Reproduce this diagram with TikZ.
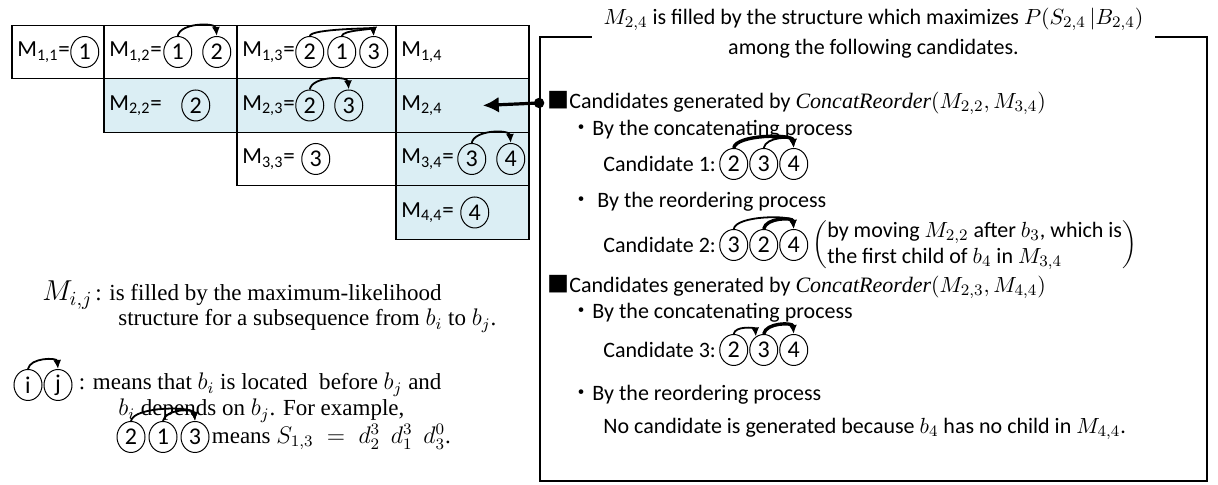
\documentclass[tikz,border=0pt]{standalone}
\usepackage{fontspec}
\setmainfont{Liberation Serif}
\setsansfont{Carlito}
\newfontfamily\cjk{Noto Sans CJK JP}
\usetikzlibrary{positioning, arrows.meta, shapes.geometric}
\definecolor{cellblue}{RGB}{219,238,244}
\tikzset{
    cell/.style={draw, line width=0.7pt, minimum height=26.75pt, inner sep=0pt, outer sep=0pt},
    col1/.style={cell, minimum width=46pt},
    col2/.style={cell, minimum width=66.5pt},
    col3/.style={cell, minimum width=79.5pt},
    col4/.style={cell, minimum width=66.5pt},
    filled/.style={fill=cellblue},
    celltext/.style={font=\sffamily\fontsize{11.5}{13}\selectfont, inner sep=0pt},
    num/.style={draw, ellipse, line width=0.5pt, minimum width=14pt, minimum height=15.5pt, inner sep=0pt, font=\sffamily\fontsize{12}{13}\selectfont},
    dep/.style={-{Latex[length=4.5pt, width=4pt]}, line width=0.9pt, out=80, in=95},
    newdep/.style={dep, line width=1.7pt},
    boxtext/.style={font=\sffamily\fontsize{11}{13}\selectfont, inner sep=0pt, anchor=west},
    legtext/.style={font=\fontsize{11.5}{13.5}\selectfont, inner sep=0pt, anchor=west},
    title/.style={fill=white, align=center, font=\sffamily\fontsize{11}{15}\selectfont, inner xsep=6pt, inner ysep=0pt},
    link/.style={line width=1.6pt, -{Latex[length=8pt, width=8pt]}}
}

\begin{document}
\begin{tikzpicture}[x=0.5pt, y=0.5pt, >=Latex]
  \useasboundingbox (0,0) rectangle (1218,485);
  \node(M11)[col1] at (58,433){};
  \node(M12)[col2, right=0pt of M11]{};
  \node(M13)[col3, right=0pt of M12]{};
  \node(M14)[col4, right=0pt of M13]{};
  \node(M22)[col2, filled, below=0pt of M12]{};
  \node(M23)[col3, filled, below=0pt of M13]{};
  \node(M24)[col4, filled, below=0pt of M14]{};
  \node(M33)[col3, below=0pt of M23]{};
  \node(M34)[col4, filled, below=0pt of M24]{};
  \node(M44)[col4, filled, below=0pt of M34]{};
  \node(T11)[celltext, right=2.5pt of M11.west]{M\textsubscript{1,1}=};
  \node(c11)[num, right=0pt of T11]{1};
  \node(T12)[celltext, right=2.5pt of M12.west]{M\textsubscript{1,2}=};
  \node(c12a)[num, right=0.5pt of T12]{1};
  \node(c12b)[num, right=5pt of c12a]{2};
  \draw[dep, looseness=0.9] (c12a.north) to (c12b.north);
  \node(T13)[celltext, right=2.5pt of M13.west]{M\textsubscript{1,3}=};
  \node(c13a)[num, right=0pt of T13]{2};
  \node(c13b)[num, right=1.5pt of c13a]{1};
  \node(c13c)[num, right=1.5pt of c13b]{3};
  \draw[dep, looseness=0.3] (c13a.north) to (c13c.north);
  \draw[dep, looseness=0.5] (c13b.north) to (c13c.north);
  \node(T14)[celltext, right=2.5pt of M14.west]{M\textsubscript{1,4}};
  \node(T22)[celltext, right=2.5pt of M22.west]{M\textsubscript{2,2}=};
  \node(c22)[num, right=9.5pt of T22]{2};
  \node(T23)[celltext, right=2.5pt of M23.west]{M\textsubscript{2,3}=};
  \node(c23a)[num, right=0pt of T23]{2};
  \node(c23b)[num, right=5pt of c23a]{3};
  \draw[dep, looseness=0.9] (c23a.north) to (c23b.north);
  \node(T24)[celltext, right=2.5pt of M24.west]{M\textsubscript{2,4}};
  \node(T33)[celltext, right=2.5pt of M33.west]{M\textsubscript{3,3}=};
  \node(c33)[num, right=3pt of T33]{3};
  \node(T34)[celltext, right=2.5pt of M34.west]{M\textsubscript{3,4}=};
  \node(c34a)[num, right=1.5pt of T34]{3};
  \node(c34b)[num, right=5pt of c34a]{4};
  \draw[dep, looseness=0.9] (c34a.north) to (c34b.north);
  \node(T44)[celltext, right=2.5pt of M44.west]{M\textsubscript{4,4}=};
  \node(c44)[num, right=3pt of T44]{4};

  \node(L1a)[legtext, font=\fontsize{14}{16}\selectfont] at (42,190){$M_{i,j}$};
  \node(L1)[legtext, right=1pt of L1a]{: is filled by the maximum-likelihood};
  \node(L2)[legtext] at (118,164){structure for a subsequence from $b_i$ to $b_j$.};
  \node(li)[num] at (28,100){i};
  \node(lj)[num, right=0.5pt of li]{j};
  \draw[dep] (li.north) to (lj.north);
  \node(L3)[legtext, right=3pt of lj]{: means that $b_i$ is located\ \ before $b_j$ and};
  \node(L4)[legtext] at (118,74){$b_i$ depends on $b_j$. For example,};
  \node(e2)[num] at (131,48){2};
  \node(e1)[num, right=1.5pt of e2]{1};
  \node(e3)[num, right=1.5pt of e1]{3};
  \draw[dep, looseness=0.6] (e2.north) to (e3.north);
  \draw[dep] (e1.north) to (e3.north);
  \node(L5)[legtext, right=1pt of e3]{means $S_{1,3}\;=\;d_2^3\;\,d_1^3\;\,d_3^0$.};

  \node(B)[draw, line width=0.9pt, minimum width=333.5pt, minimum height=222pt, inner sep=0pt] at (873.5,226){};
  \node(Title)[title] at (873.5,452){$M_{2,4}$ is filled by the structure which maximizes $P\bigl(S_{2,4}\,\big|B_{2,4}\bigr)$\\among the following candidates.};
  \node(S1)[boxtext] at (547,382){{\cjk ■}Candidates generated by $\mathit{ConcatReorder}\bigl(M_{2,2}, M_{3,4}\bigr)$};
  \node(S1a)[boxtext] at (570,355){{\cjk ・}By the concatenating process};
  \node(C1)[boxtext] at (603,321){Candidate 1:};
  \node(c1a)[num, right=1.5pt of C1]{2};
  \node(c1b)[num, right=0.5pt of c1a]{3};
  \node(c1c)[num, right=0.5pt of c1b]{4};
  \draw[newdep, looseness=0.6] (c1a.north) to (c1c.north);
  \draw[dep] (c1b.north) to (c1c.north);
  \node(S1b)[boxtext] at (570,283){{\cjk ・} By the reordering process};
  \node(C2)[boxtext] at (603,240){Candidate 2:};
  \node(c2a)[num, right=1.5pt of C2]{3};
  \node(c2b)[num, right=0.5pt of c2a]{2};
  \node(c2c)[num, right=0.5pt of c2b]{4};
  \draw[dep, looseness=0.6] (c2a.north) to (c2c.north);
  \draw[newdep] (c2b.north) to (c2c.north);
  \node(N2)[boxtext, right=2pt of c2c]{$\left(\begin{tabular}{@{}l@{}}by moving $M_{2,2}$ after $b_3$, which is\\the first child of $b_4$ in $M_{3,4}$\end{tabular}\right)$};
  \node(S2)[boxtext] at (547,198){{\cjk ■}Candidates generated by $\mathit{ConcatReorder}\bigl(M_{2,3}, M_{4,4}\bigr)$};
  \node(S2a)[boxtext] at (570,172){{\cjk ・}By the concatenating process};
  \node(C3)[boxtext] at (603,135){Candidate 3:};
  \node(c3a)[num, right=1.5pt of C3]{2};
  \node(c3b)[num, right=0.5pt of c3a]{3};
  \node(c3c)[num, right=0.5pt of c3b]{4};
  \draw[dep] (c3a.north) to (c3b.120);
  \draw[newdep] (c3b.north) to (c3c.north);
  \node(S2b)[boxtext] at (570,90){{\cjk ・}By the reordering process};
  \node(N3)[boxtext] at (603,56){No candidate is generated because $b_4$ has no child in $M_{4,4}$.};

  \fill (B.west |- S1) circle (2.6pt);
  \draw[link] (B.west |- S1) -- ([xshift=20pt]T24.east);
\end{tikzpicture}
\end{document}
